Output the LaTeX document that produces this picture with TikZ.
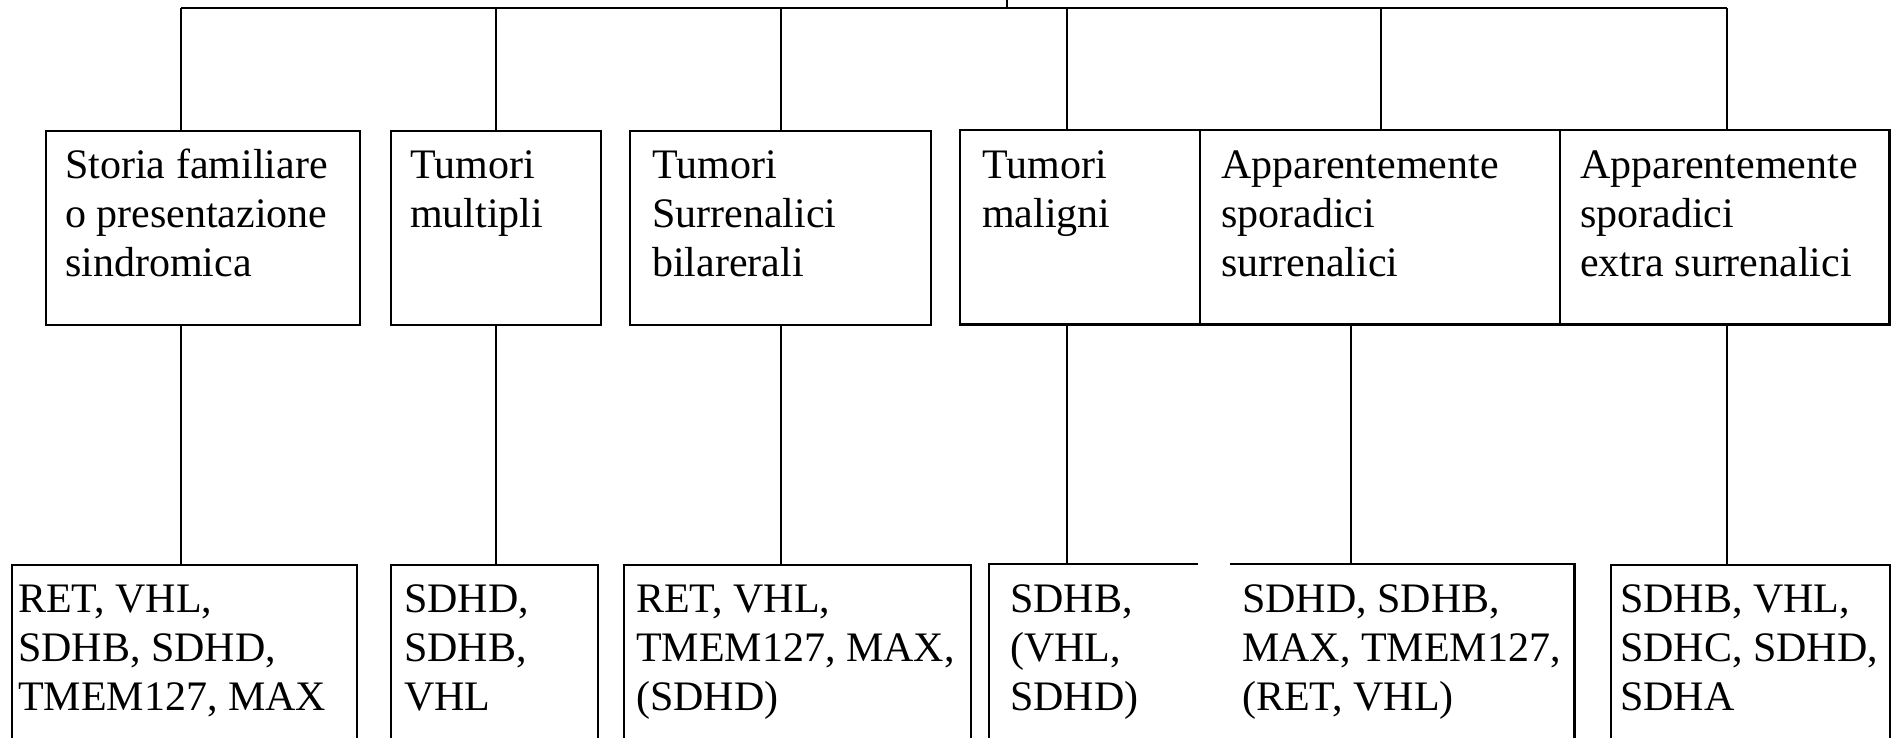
\documentclass[tikz,border=0pt]{standalone}
\usepackage{fontspec}
\setmainfont{Liberation Serif}
\tikzset{
  boxline/.style={line width=2.2pt},
  conn/.style={line width=1.4pt},
  bar/.style={line width=2pt},
  box/.style={draw, boxline, rectangle, inner sep=0pt, anchor=north west},
  bare/.style={rectangle, inner sep=0pt, anchor=north west},
  txt/.style={anchor=base west, inner sep=0pt, font=\fontsize{42}{49}\selectfont},
}
\newcommand{\mlines}[1]{\parbox[t]{400pt}{#1}}
\begin{document}
\begin{tikzpicture}[x=1pt,y=-1pt]
\clip (0,0) rectangle (1891,737);
% top bar
\coordinate (root) at (1007,0);
\coordinate (rootj) at (1007,8);
\coordinate (t1) at (181,8);
\coordinate (t2) at (496,8);
\coordinate (t3) at (781,8);
\coordinate (t4) at (1067,8);
\coordinate (t5) at (1381,8);
\coordinate (t6) at (1727,8);
\draw[bar] (t1) -- (t6);
\draw[conn] (root) -- (rootj);
% lower connector x positions
\coordinate (d1) at (181,0);
\coordinate (d2) at (496,0);
\coordinate (d3) at (781,0);
\coordinate (d4) at (1067,0);
\coordinate (d5) at (1351,0);
\coordinate (d6) at (1727,0);
% upper boxes
\node[box, minimum width=314pt, minimum height=194pt] (u1) at (45,130) {};
\node[box, minimum width=210pt, minimum height=194pt] (u2) at (390,130) {};
\node[box, minimum width=301pt, minimum height=194pt] (u3) at (629,130) {};
\node[bare, minimum width=240pt, minimum height=194pt] (u4) at (960,130) {};
\node[bare, minimum width=360pt, minimum height=194pt] (u5) at (1200,130) {};
\node[bare, minimum width=329pt, minimum height=194pt] (u6) at (1560,130) {};
\draw[boxline] (u4.north west) rectangle (u6.south east);
\draw[conn] (u5.north west) -- (u5.south west);
\draw[conn] (u6.north west) -- (u6.south west);
% lower boxes
\node[box, minimum width=345pt, minimum height=200pt] (l1) at (11,564) {};
\node[box, minimum width=207pt, minimum height=200pt] (l2) at (390,564) {};
\node[box, minimum width=347pt, minimum height=200pt] (l3) at (623,564) {};
\node[bare, minimum width=209pt, minimum height=200pt] (l4) at (989,564) {};
\node[bare, minimum width=344pt, minimum height=200pt] (l5) at (1230,564) {};
\node[box, minimum width=279pt, minimum height=200pt] (l6) at (1610,564) {};
\draw[boxline] (l4.south west) -- (l4.north west) -- (l4.north east);
\draw[boxline] (l5.north west) -- (l5.north east) -- (l5.south east);
% connectors
\foreach \i in {1,...,6} {
  \draw[conn] (t\i) -- (t\i |- u\i.north);
  \draw[conn] (d\i |- u\i.south) -- (d\i |- l\i.north);
}
% upper texts
\node[txt] (tu1) at (65,178) {\mlines{Storia familiare\\o presentazione\\sindromica}};
\node[txt] (tu2) at (410,178) {\mlines{Tumori\\multipli}};
\node[txt] (tu3) at (652,178) {\mlines{Tumori\\Surrenalici\\bilarerali}};
\node[txt] (tu4) at (982,178) {\mlines{Tumori\\maligni}};
\node[txt] (tu5) at (1221,178) {\mlines{Apparentemente\\sporadici\\surrenalici}};
\node[txt] (tu6) at (1580,178) {\mlines{Apparentemente\\sporadici\\extra surrenalici}};
% lower texts
\node[txt] (tl1) at (18,612) {\mlines{RET, VHL,\\SDHB, SDHD,\\TMEM127, MAX}};
\node[txt] (tl2) at (404,612) {\mlines{SDHD,\\SDHB,\\VHL}};
\node[txt] (tl3) at (636,612) {\mlines{RET, VHL,\\TMEM127, MAX,\\(SDHD)}};
\node[txt] (tl4) at (1010,612) {\mlines{SDHB,\\(VHL,\\SDHD)}};
\node[txt] (tl5) at (1242,612) {\mlines{SDHD, SDHB,\\MAX, TMEM127,\\(RET, VHL)}};
\node[txt] (tl6) at (1620,612) {\mlines{SDHB, VHL,\\SDHC, SDHD,\\SDHA}};
\end{tikzpicture}
\end{document}
